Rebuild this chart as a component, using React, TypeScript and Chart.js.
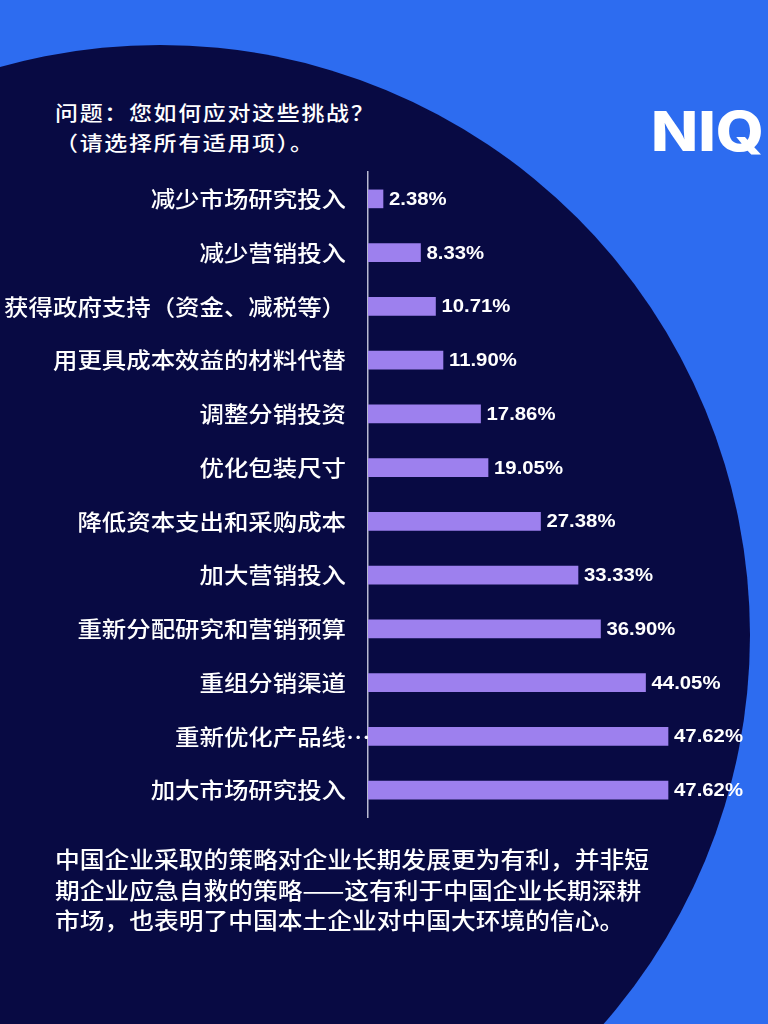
import React, { useEffect, useRef } from "react";
import { Chart, registerables } from "chart.js";

Chart.register(...registerables);

const TITLE_LINES = ["问题：您如何应对这些挑战？", "（请选择所有适用项）。"];
const NOTE_LINES = [
  "中国企业采取的策略对企业长期发展更为有利，并非短",
  "期企业应急自救的策略——这有利于中国企业长期深耕",
  "市场，也表明了中国本土企业对中国大环境的信心。",
];
const LOGO_TEXT = "NIQ";

const categories = [
  "减少市场研究投入",
  "减少营销投入",
  "获得政府支持（资金、减税等）",
  "用更具成本效益的材料代替",
  "调整分销投资",
  "优化包装尺寸",
  "降低资本支出和采购成本",
  "加大营销投入",
  "重新分配研究和营销预算",
  "重组分销渠道",
  "重新优化产品线…",
  "加大市场研究投入",
];
const values = [2.38, 8.33, 10.71, 11.9, 17.86, 19.05, 27.38, 33.33, 36.9, 44.05, 47.62, 47.62];

const BG_BLUE = "#2D6CF0";
const NAVY = "#080A43";
const BAR_COLOR = "#9D80EE";
const CJK = '"Noto Sans CJK SC", "Noto Sans", sans-serif';
const SX = 1.11;

const labelPlugin = {
  id: "customLabels",
  afterDatasetsDraw(chart: any) {
    const ctx = chart.ctx as CanvasRenderingContext2D;
    const yScale = chart.scales.y;
    const meta = chart.getDatasetMeta(0);
    ctx.save();
    ctx.fillStyle = "#FFFFFF";
    ctx.textBaseline = "middle";
    ctx.font = `500 22px ${CJK}`;
    const rightX = yScale.right - 22;
    categories.forEach((lab, i) => {
      const y = yScale.getPixelForTick(i);
      ctx.save();
      ctx.translate(rightX, y);
      ctx.scale(SX, 1);
      if (lab.endsWith("…")) {
        const base = lab.slice(0, -1);
        ctx.textAlign = "right";
        ctx.fillText(base, 0, 0);
        ctx.textAlign = "left";
        ctx.fillText("…", 0, 0);
      } else {
        ctx.textAlign = "right";
        ctx.fillText(lab, 0, 0);
      }
      ctx.restore();
    });
    ctx.font = `bold 18px "Liberation Sans", Arial, sans-serif`;
    ctx.textAlign = "left";
    meta.data.forEach((bar: any, i: number) => {
      ctx.save();
      ctx.translate(bar.x + 6, bar.y + 1);
      ctx.scale(1.13, 1);
      ctx.fillText(values[i].toFixed(2) + "%", 0, 0);
      ctx.restore();
    });
    ctx.restore();
  },
};

function BarChart() {
  const ref = useRef<HTMLCanvasElement | null>(null);
  useEffect(() => {
    if (!ref.current) return;
    const chart = new Chart(ref.current, {
      type: "bar",
      data: {
        labels: categories,
        datasets: [
          {
            data: values,
            backgroundColor: BAR_COLOR,
            borderWidth: 0,
            barThickness: 18,
          },
        ],
      },
      options: {
        indexAxis: "y",
        responsive: false,
        animation: false,
        devicePixelRatio: 1,
        layout: { padding: { top: 172, bottom: 207, right: 22, left: 0 } },
        plugins: { legend: { display: false }, tooltip: { enabled: false } },
        scales: {
          x: { display: false, min: 0, max: 60 },
          y: {
            afterFit: (s: any) => {
              s.width = 368;
            },
            grid: { display: false, drawTicks: false },
            border: { display: true, color: "rgba(205,205,225,0.9)", width: 1.5 },
            ticks: { display: false },
          },
        },
      },
      plugins: [labelPlugin],
    });
    return () => chart.destroy();
  }, []);
  return (
    <canvas
      ref={ref}
      width={768}
      height={1024}
      style={{ position: "absolute", left: 0, top: 0, width: 768, height: 1024 }}
    />
  );
}

export default function App() {
  return (
    <div
      style={{
        position: "absolute",
        left: 0,
        top: 0,
        width: 768,
        height: 1024,
        overflow: "hidden",
        background: BG_BLUE,
      }}
    >
      <div
        style={{
          position: "absolute",
          left: 160 - 590,
          top: 635 - 590,
          width: 1180,
          height: 1180,
          borderRadius: "50%",
          background: NAVY,
        }}
      />
      <div
        style={{
          position: "absolute",
          left: 55,
          top: 97,
          color: "#FFFFFF",
          fontFamily: CJK,
          fontWeight: 500,
          fontSize: 20.5,
          lineHeight: "30px",
          letterSpacing: "1.5px",
          whiteSpace: "nowrap",
          transform: "scaleX(1.12)",
          transformOrigin: "0 0",
        }}
      >
        {TITLE_LINES.map((l, i) => (
          <div key={i}>{l}</div>
        ))}
      </div>
      <div
        style={{
          position: "absolute",
          left: 651,
          top: 104,
          color: "#FFFFFF",
          fontFamily: "Inter, sans-serif",
          fontWeight: 800,
          fontSize: 55,
          lineHeight: 1,
          whiteSpace: "nowrap",
          transform: "scaleX(1.12)",
          transformOrigin: "0 0",
        }}
      >
        {LOGO_TEXT}
      </div>
      <BarChart />
      <div
        style={{
          position: "absolute",
          left: 55,
          top: 843,
          color: "#FFFFFF",
          fontFamily: CJK,
          fontWeight: 500,
          fontSize: 22.5,
          lineHeight: "30.5px",
          whiteSpace: "nowrap",
          transform: "scaleX(1.1)",
          transformOrigin: "0 0",
        }}
      >
        {NOTE_LINES.map((l, i) => (
          <div key={i}>{l}</div>
        ))}
      </div>
    </div>
  );
}
